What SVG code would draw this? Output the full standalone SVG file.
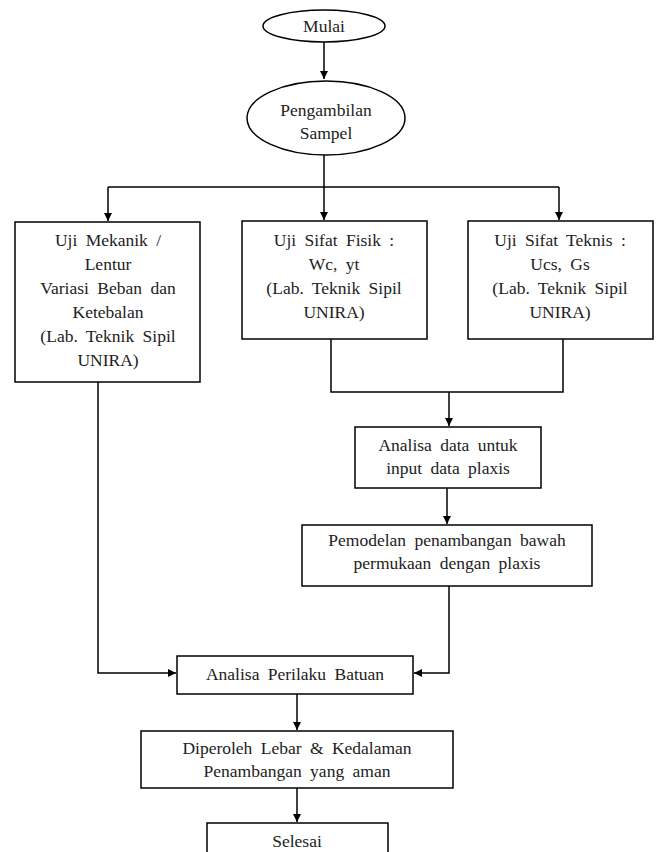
<svg xmlns="http://www.w3.org/2000/svg" width="657" height="852" viewBox="0 0 657 852">
<defs>
<style>
.n{fill:#fff;stroke:#000;stroke-width:1.5}
.t{font-family:"Liberation Serif","Times New Roman",serif;font-size:17.5px;fill:#222;text-anchor:middle;word-spacing:4px}
.c{fill:none;stroke:#000;stroke-width:1.5}
</style>
<marker id="a" viewBox="0 0 10 10" refX="10" refY="5" markerWidth="8" markerHeight="8" markerUnits="userSpaceOnUse" orient="auto"><path d="M0,0 L10,5 L0,10 z" fill="#000"/></marker>
</defs>
<rect width="657" height="852" fill="#fff"/>
<g id="connectors">
<path class="c" d="M324,42 V79" marker-end="url(#a)"/>
<path class="c" d="M324,155 V187"/>
<path class="c" d="M108,187 H559"/>
<path class="c" d="M108,187 V221" marker-end="url(#a)"/>
<path class="c" d="M324,187 V220" marker-end="url(#a)"/>
<path class="c" d="M559,187 V220" marker-end="url(#a)"/>
<path class="c" d="M331,339 V392 H563 V339"/>
<path class="c" d="M449,392 V426" marker-end="url(#a)"/>
<path class="c" d="M447,488 V524" marker-end="url(#a)"/>
<path class="c" d="M449,586 V673 H414" marker-end="url(#a)"/>
<path class="c" d="M98,382 V673 H176" marker-end="url(#a)"/>
<path class="c" d="M297,694 V730" marker-end="url(#a)"/>
<path class="c" d="M297,788 V822" marker-end="url(#a)"/>
</g>
<g id="mulai"><ellipse class="n" cx="324" cy="26" rx="61" ry="16"/><text class="t" x="324" y="32">Mulai</text></g>
<g id="pengambilan"><ellipse class="n" cx="326" cy="118" rx="79" ry="37"/><text class="t" x="326" y="116">Pengambilan</text><text class="t" x="326" y="139">Sampel</text></g>
<g id="mekanik"><rect class="n" x="15" y="222" width="185" height="160"/>
<text class="t" x="108" y="246">Uji Mekanik /</text><text class="t" x="108" y="270">Lentur</text><text class="t" x="108" y="294">Variasi Beban dan</text><text class="t" x="108" y="318">Ketebalan</text><text class="t" x="108" y="342">(Lab. Teknik Sipil</text><text class="t" x="108" y="366">UNIRA)</text></g>
<g id="fisik"><rect class="n" x="242" y="221" width="185" height="118"/>
<text class="t" x="334" y="246">Uji Sifat Fisik :</text><text class="t" x="334" y="270">Wc, yt</text><text class="t" x="334" y="294">(Lab. Teknik Sipil</text><text class="t" x="334" y="318">UNIRA)</text></g>
<g id="teknis"><rect class="n" x="468" y="221" width="185" height="118"/>
<text class="t" x="560" y="246">Uji Sifat Teknis :</text><text class="t" x="560" y="270">Ucs, Gs</text><text class="t" x="560" y="294">(Lab. Teknik Sipil</text><text class="t" x="560" y="318">UNIRA)</text></g>
<g id="analisa-data"><rect class="n" x="355" y="427" width="186" height="61"/>
<text class="t" x="448" y="451">Analisa data untuk</text><text class="t" x="448" y="474">input data plaxis</text></g>
<g id="pemodelan"><rect class="n" x="302" y="525" width="290" height="61"/>
<text class="t" x="447" y="546">Pemodelan penambangan bawah</text><text class="t" x="447" y="569">permukaan  dengan plaxis</text></g>
<g id="perilaku"><rect class="n" x="177" y="656" width="236" height="38"/>
<text class="t" x="295" y="680">Analisa Perilaku Batuan</text></g>
<g id="diperoleh"><rect class="n" x="141" y="731" width="312" height="57"/>
<text class="t" x="297" y="754">Diperoleh Lebar &amp; Kedalaman</text><text class="t" x="297" y="777">Penambangan  yang aman</text></g>
<g id="selesai"><rect class="n" x="207" y="823" width="181" height="40"/>
<text class="t" x="297" y="847">Selesai</text></g>
</svg>
